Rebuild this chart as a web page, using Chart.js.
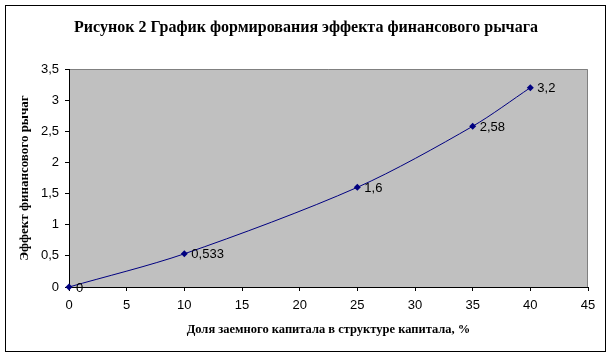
<!DOCTYPE html>
<html>
<head>
<meta charset="utf-8">
<script src="https://cdn.jsdelivr.net/npm/chart.js@4/dist/chart.umd.min.js"></script>
<style>
html,body{margin:0;padding:0;background:#fff;}
#wrap{width:613px;height:358px;position:relative;}
</style>
</head>
<body>
<div id="wrap"><canvas id="c" width="613" height="358"></canvas></div>
<script>
const chartTitle = 'Рисунок 2 График формирования эффекта финансового рычага';
const xTitle = 'Доля заемного капитала в структуре капитала, %';
const yTitle = 'Эффект финансового рычаг';
const xValues = [0, 10, 25, 35, 40];
const yValues = [0, 0.533, 1.6, 2.58, 3.2];
const pointLabels = ['0', '0,533', '1,6', '2,58', '3,2'];

const points = xValues.map((x, i) => ({x: x, y: yValues[i]}));
const fmt = v => String(v).replace('.', ',');

const decor = {
  id: 'decor',
  beforeDraw(chart) {
    const {ctx, chartArea: a} = chart;
    ctx.save();
    ctx.fillStyle = '#C0C0C0';
    ctx.fillRect(a.left, a.top, a.right - a.left, a.bottom - a.top);
    ctx.strokeStyle = '#808080';
    ctx.lineWidth = 1;
    ctx.beginPath();
    ctx.moveTo(a.left, a.top + 0.5);
    ctx.lineTo(a.right - 0.5, a.top + 0.5);
    ctx.lineTo(a.right - 0.5, a.bottom);
    ctx.stroke();
    ctx.strokeStyle = '#000';
    ctx.strokeRect(5.5, 5.5, 600, 346);
    ctx.fillStyle = '#000';
    ctx.font = 'bold 16px "Liberation Serif", "Times New Roman", serif';
    ctx.textAlign = 'center';
    ctx.textBaseline = 'middle';
    ctx.fillText(chartTitle, 306, 28);
    ctx.restore();
  },
  afterDatasetsDraw(chart) {
    const {ctx} = chart;
    const meta = chart.getDatasetMeta(0);
    ctx.save();
    ctx.font = '13px "Liberation Sans", Arial, sans-serif';
    ctx.fillStyle = '#000';
    ctx.textBaseline = 'middle';
    ctx.textAlign = 'left';
    meta.data.forEach((el, i) => {
      ctx.fillText(pointLabels[i], el.x + 7, el.y + 1);
    });
    ctx.restore();
  }
};

new Chart(document.getElementById('c'), {
  type: 'scatter',
  data: {
    datasets: [{
      data: points,
      showLine: true,
      borderColor: '#000080',
      backgroundColor: '#000080',
      borderWidth: 1,
      tension: 0.3,
      pointStyle: 'rectRot',
      pointRadius: 3.5,
      pointBorderWidth: 0,
      pointHoverRadius: 3.5,
      clip: false
    }]
  },
  options: {
    responsive: false,
    animation: false,
    events: [],
    layout: {padding: {left: 0, right: 25, top: 69, bottom: 0}},
    plugins: {
      legend: {display: false},
      tooltip: {enabled: false},
      title: {display: false}
    },
    scales: {
      x: {
        type: 'linear',
        min: 0, max: 45,
        afterFit(s) { s.height = 71; },
        ticks: {
          stepSize: 5,
          color: '#000',
          padding: 7,
          font: {family: '"Liberation Sans", Arial, sans-serif', size: 13},
          callback: v => fmt(v)
        },
        grid: {drawOnChartArea: false, drawTicks: true, tickLength: 4, tickColor: '#000'},
        border: {color: '#000', width: 1},
        title: {
          display: true,
          text: xTitle,
          color: '#000',
          font: {family: '"Liberation Serif", "Times New Roman", serif', size: 12.5, weight: 'bold'},
          padding: {top: 0, bottom: 20.5}
        }
      },
      y: {
        type: 'linear',
        min: 0, max: 3.5,
        afterFit(s) { s.width = 69; },
        ticks: {
          stepSize: 0.5,
          color: '#000',
          padding: 6,
          font: {family: '"Liberation Sans", Arial, sans-serif', size: 13},
          callback: v => fmt(v)
        },
        grid: {drawOnChartArea: false, drawTicks: true, tickLength: 4, tickColor: '#000'},
        border: {color: '#000', width: 1},
        title: {
          display: true,
          text: yTitle,
          color: '#000',
          font: {family: '"Liberation Serif", "Times New Roman", serif', size: 13, weight: 'bold'},
          padding: {top: 17, bottom: 0}
        }
      }
    }
  },
  plugins: [decor]
});
</script>
</body>
</html>
